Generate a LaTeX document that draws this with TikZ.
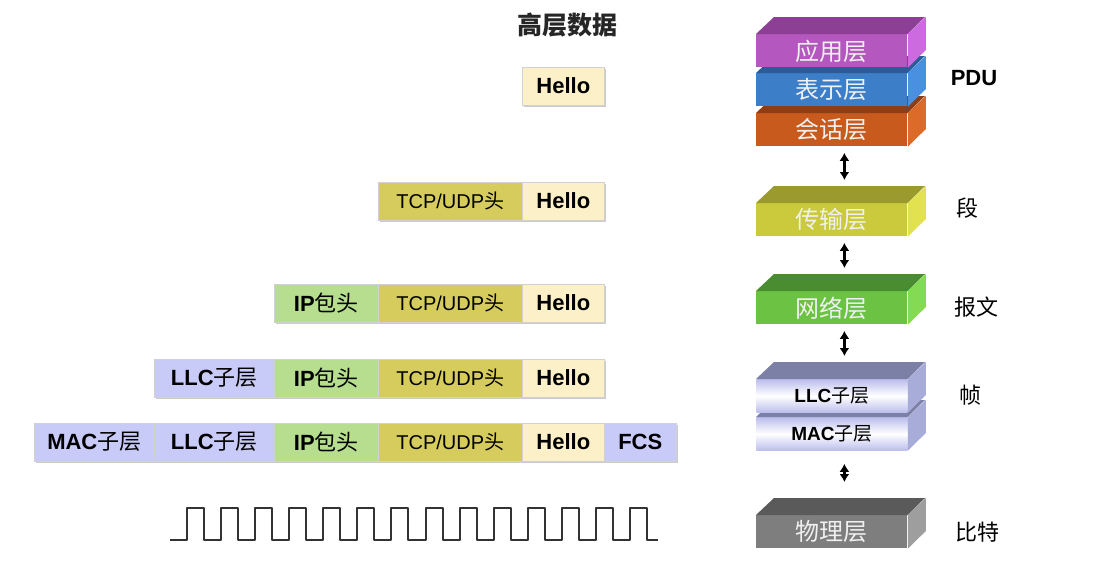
\documentclass[tikz,border=0pt]{standalone}
\usepackage{fontspec}
\setmainfont{Liberation Sans}
\newfontfamily\cjk{Noto Sans CJK SC}
\usetikzlibrary{arrows.meta,shadows}

\definecolor{hellofill}{HTML}{FCF0C8}
\definecolor{tcpfill}{HTML}{D6CC5E}
\definecolor{ipfill}{HTML}{B6DE8E}
\definecolor{macfill}{HTML}{C8CAF8}
\definecolor{appfront}{HTML}{B457BE}
\definecolor{apptop}{HTML}{8C3F94}
\definecolor{appside}{HTML}{CC6AE0}
\definecolor{presfront}{HTML}{3C7EC8}
\definecolor{prestop}{HTML}{2C5C98}
\definecolor{presside}{HTML}{4A90E0}
\definecolor{sessfront}{HTML}{C85A1E}
\definecolor{sesstop}{HTML}{8E3E14}
\definecolor{sessside}{HTML}{DC6A28}
\definecolor{transfront}{HTML}{CACA3C}
\definecolor{transtop}{HTML}{9A9A2E}
\definecolor{transside}{HTML}{E2E250}
\definecolor{netfront}{HTML}{6CC243}
\definecolor{nettop}{HTML}{4A8C30}
\definecolor{netside}{HTML}{84DA52}
\definecolor{llcfront}{HTML}{BCBEEC}
\definecolor{llctop}{HTML}{7C80A6}
\definecolor{llcside}{HTML}{A8ACD8}
\definecolor{phyfront}{HTML}{7E7E7E}
\definecolor{phytop}{HTML}{5A5A5A}
\definecolor{physide}{HTML}{9E9E9E}

% one layer of the stack: front face as node, top and side faces after it
\newcommand{\layerbox}[6]{%
  \node[layer,#4] (#1) at (756,#2) {#3};
  \fill[#5] (#1.north west) -- ++(18,-17) -- ++(151,0) -- (#1.north east) -- cycle;
  \fill[#6] (#1.north east) -- ++(18,-17) -- ++(0,33) -- (#1.south east) -- cycle;
  \coordinate (#1-top) at ([yshift=8.5pt]#1.north);
}

\begin{document}
\begin{tikzpicture}[x=0.5pt,y=-0.5pt,
	seg/.style={anchor=west,minimum height=19pt,inner sep=0pt,draw=black!18,line width=0.3pt,
		drop shadow={shadow xshift=0.9pt,shadow yshift=-0.9pt,fill=black!45,opacity=0.45},
		font=\fontsize{10}{10}\selectfont},
	hello/.style={seg,fill=hellofill,minimum width=41pt,font=\bfseries\fontsize{11}{11}\selectfont},
	tcp/.style={seg,fill=tcpfill,minimum width=72pt},
	iphead/.style={seg,fill=ipfill,minimum width=52pt,font=\fontsize{11}{11}\selectfont},
	sublayer/.style={seg,fill=macfill,minimum width=60pt,font=\fontsize{11}{11}\selectfont},
	fcs/.style={seg,fill=macfill,minimum width=36pt,font=\bfseries\fontsize{11}{11}\selectfont},
	layer/.style={anchor=north west,minimum width=75.5pt,minimum height=16.5pt,inner sep=0pt,
		text=white!94!black,font=\cjk\fontsize{12}{12}\selectfont},
	lansub/.style={text=black,font=\fontsize{9.5}{9.5}\selectfont,
		top color=llcfront,bottom color=llcfront,middle color=white},
	pdutext/.style={font=\cjk\fontsize{11}{11}\selectfont},
	updown/.style={{Latex[length=4pt,width=5pt]}-{Latex[length=4pt,width=5pt]},line width=1.3pt,
		shorten <=3pt,shorten >=3pt},
	wave/.style={line width=1pt,black!80,line join=round}]
	\useasboundingbox (0,0) rectangle (1110,584);

	\node[font=\cjk\bfseries\fontsize{12.5}{12.5}\selectfont,text=black!85] (title) at (567,25) {高层数据};

	% packet rows
	\node[hello] (h1) at (522,86) {Hello};

	\node[tcp] (t2) at (378,201) {TCP/UDP{\cjk 头}};
	\node[hello] (h2) at (522,201) {Hello};

	\node[iphead] (i3) at (274,303) {{\bfseries IP}{\cjk 包头}};
	\node[tcp] (t3) at (378,303) {TCP/UDP{\cjk 头}};
	\node[hello] (h3) at (522,303) {Hello};

	\node[sublayer] (l4) at (154,378) {{\bfseries LLC}{\cjk 子层}};
	\node[iphead] (i4) at (274,378) {{\bfseries IP}{\cjk 包头}};
	\node[tcp] (t4) at (378,378) {TCP/UDP{\cjk 头}};
	\node[hello] (h4) at (522,378) {Hello};

	\node[sublayer] (m5) at (34,442) {{\bfseries MAC}{\cjk 子层}};
	\node[sublayer] (l5) at (154,442) {{\bfseries LLC}{\cjk 子层}};
	\node[iphead] (i5) at (274,442) {{\bfseries IP}{\cjk 包头}};
	\node[tcp] (t5) at (378,442) {TCP/UDP{\cjk 头}};
	\node[hello] (h5) at (522,442) {Hello};
	\node[fcs] (f5) at (604,442) {FCS};

	% bit stream
	\coordinate (wstart) at (170,540);
	\draw[wave] (wstart) -- ++(17,0)
		\foreach \i in {1,...,13}{ -- ++(0,-32) -- ++(17,0) -- ++(0,32) -- ++(17.08,0)}
		-- ++(0,-32) -- ++(17,0) -- ++(0,32) -- ++(11,0);

	% layer stack
	\layerbox{sess}{113}{会话层}{fill=sessfront}{sesstop}{sessside}
	\layerbox{pres}{73}{表示层}{fill=presfront}{prestop}{presside}
	\layerbox{app}{34}{应用层}{fill=appfront}{apptop}{appside}
	\layerbox{trans}{203}{传输层}{fill=transfront}{transtop}{transside}
	\layerbox{net}{291}{网络层}{fill=netfront}{nettop}{netside}
	\layerbox{mac}{417}{{\bfseries MAC}{\cjk 子层}}{lansub}{llctop}{llcside}
	\layerbox{llc}{379}{{\bfseries LLC}{\cjk 子层}}{lansub}{llctop}{llcside}
	\layerbox{phy}{515}{物理层}{fill=phyfront}{phytop}{physide}

	\draw[updown] ([xshift=6.25pt]sess.south) -- ([xshift=6.25pt]trans-top);
	\draw[updown] ([xshift=6.25pt]trans.south) -- ([xshift=6.25pt]net-top);
	\draw[updown] ([xshift=6.25pt]net.south) -- ([xshift=6.25pt]llc-top);
	\draw[updown,shorten <=6.5pt,shorten >=8pt] ([xshift=6.25pt]mac.south) -- ([xshift=6.25pt]phy-top);

	% unit names
	\node[font=\bfseries\fontsize{11}{11}\selectfont] (pdu) at (974,78) {PDU};
	\node[pdutext] (lsegment) at (967,208) {段};
	\node[pdutext] (lpacket) at (976,307) {报文};
	\node[pdutext] (lframe) at (970,395) {帧};
	\node[pdutext] (lbits) at (977,532) {比特};
\end{tikzpicture}
\end{document}
